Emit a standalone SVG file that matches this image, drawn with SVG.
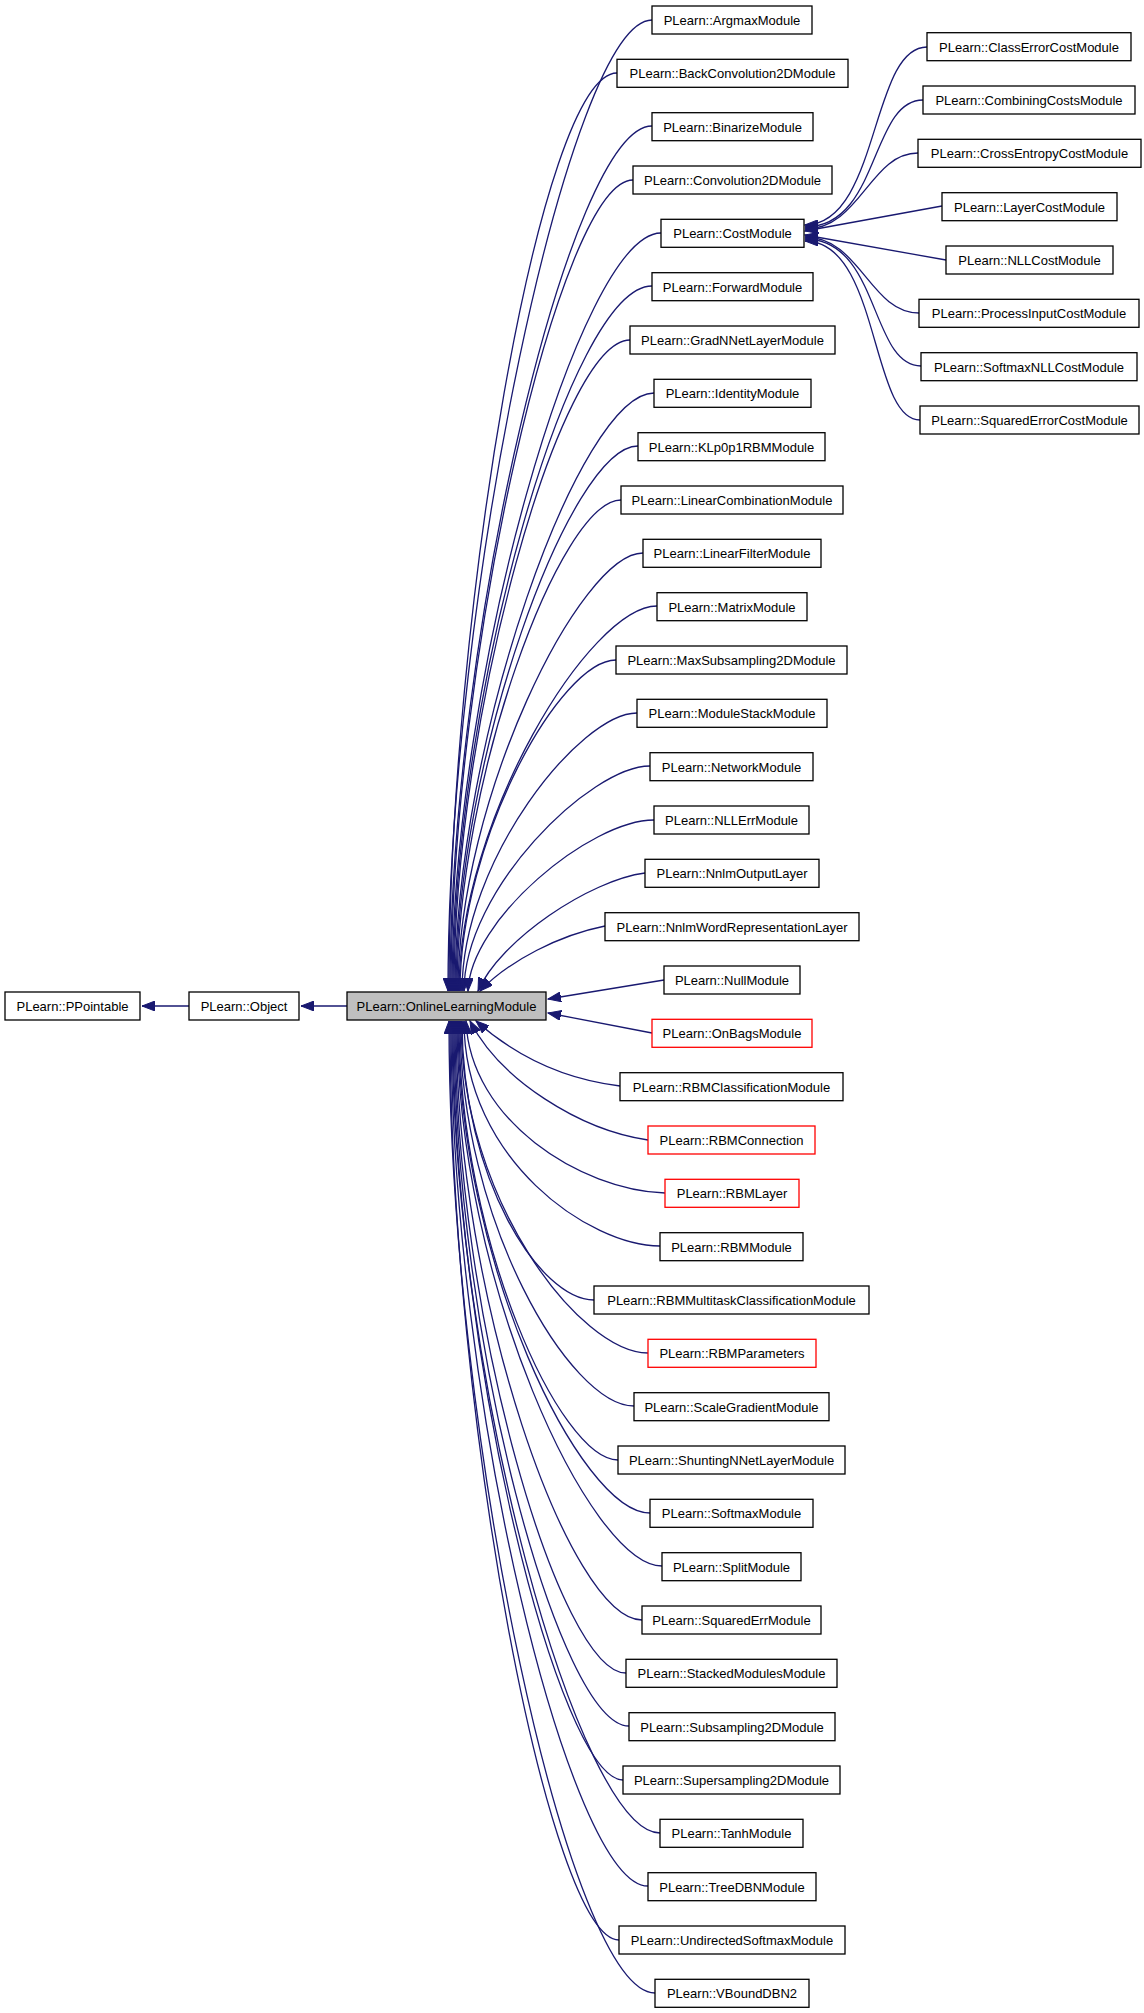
<svg xmlns="http://www.w3.org/2000/svg" width="1144" height="2013" viewBox="0 0 1144 2013">
<style>
.n rect{fill:#fff;stroke:#000;stroke-width:1.3}
.n.red rect{stroke:#ff0000}
.n.main rect{fill:#bfbfbf}
.n text{font-family:"Liberation Sans",Arial,sans-serif;font-size:13px;text-anchor:middle;fill:#000}
#edges path{fill:none;stroke:#191970;stroke-width:1.3;marker-end:url(#ah)}
</style>
<defs>
<marker id="ah" markerUnits="userSpaceOnUse" markerWidth="14" markerHeight="10" refX="13" refY="5" orient="auto">
<path d="M0,0 L13,5 L0,10 Z" fill="#191970" stroke="#191970"/>
</marker>
</defs>
<g id="edges">
<path d="M189,1006 L142,1006"/>
<path d="M347,1006 L301,1006"/>
<path d="M652,20 C570,20 448,600 448,991"/>
<path d="M617,73 C540,73 449,620 449,991"/>
<path d="M652,126 C570,126 450,640 450,991"/>
<path d="M633,180 C560,180 451,660 451,991"/>
<path d="M661,233 C580,233 452,680 452,991"/>
<path d="M652,286 C570,286 453,700 453,991"/>
<path d="M630,340 C560,340 454,720 454,991"/>
<path d="M654,393 C580,393 455,740 455,991"/>
<path d="M638,446 C570,446 456,760 456,991"/>
<path d="M621,500 C560,500 457,780 457,991"/>
<path d="M643,553 C580,553 458,800 458,991"/>
<path d="M657,606 C590,606 459,820 459,991"/>
<path d="M616,660 C560,660 460,840 460,991"/>
<path d="M637,713 C580,713 462,860 462,991"/>
<path d="M650,766 C590,766 464,890 464,991"/>
<path d="M654,820 C590,820 470,920 468,991"/>
<path d="M645,873 C590,880 500,940 478,991"/>
<path d="M605,926 C560,935 510,960 480,991"/>
<path d="M664,980 L548,999"/>
<path d="M652,1033 L548,1013"/>
<path d="M620,1086 C570,1080 520,1060 476,1021"/>
<path d="M648,1140 C580,1130 500,1080 470,1021"/>
<path d="M665,1193 C580,1190 470,1120 466,1021"/>
<path d="M660,1246 C590,1246 464,1160 464,1021"/>
<path d="M594,1300 C540,1300 462,1180 462,1021"/>
<path d="M648,1353 C580,1353 461,1200 461,1021"/>
<path d="M634,1406 C570,1406 460,1220 460,1021"/>
<path d="M618,1460 C560,1460 459,1240 459,1021"/>
<path d="M650,1513 C580,1513 458,1260 458,1021"/>
<path d="M662,1566 C590,1566 457,1280 457,1021"/>
<path d="M642,1620 C570,1620 456,1300 456,1021"/>
<path d="M626,1673 C560,1673 455,1320 455,1021"/>
<path d="M629,1726 C560,1726 454,1340 454,1021"/>
<path d="M623,1780 C560,1780 453,1360 453,1021"/>
<path d="M660,1833 C580,1833 452,1380 452,1021"/>
<path d="M648,1886 C570,1886 451,1400 451,1021"/>
<path d="M619,1940 C550,1940 450,1420 450,1021"/>
<path d="M655,1993 C570,1993 449,1440 449,1021"/>
<path d="M927,47 C870,47 880,224 805,225"/>
<path d="M923,100 C870,100 880,227 805,227"/>
<path d="M918,153 C870,153 860,229 805,229"/>
<path d="M942,206 L805,231"/>
<path d="M946,260 L805,235"/>
<path d="M919,313 C870,313 860,237 805,237"/>
<path d="M921,366 C870,366 880,239 805,239"/>
<path d="M920,420 C870,420 880,241 805,241"/>
</g>
<g id="n_ppointable" class="n"><rect x="5" y="992" width="135" height="28"/><text x="72.5" y="1011">PLearn::PPointable</text></g>
<g id="n_object" class="n"><rect x="189" y="992" width="110" height="28"/><text x="244" y="1011">PLearn::Object</text></g>
<g id="n_olm" class="n main"><rect x="347" y="992" width="199" height="28"/><text x="446.5" y="1011">PLearn::OnlineLearningModule</text></g>
<g id="n_argmax" class="n"><rect x="652" y="6" width="160" height="28"/><text x="732" y="25">PLearn::ArgmaxModule</text></g>
<g id="n_backconv" class="n"><rect x="617" y="59.3" width="231" height="28"/><text x="732.5" y="78.3">PLearn::BackConvolution2DModule</text></g>
<g id="n_binarize" class="n"><rect x="652" y="112.7" width="161" height="28"/><text x="732.5" y="131.7">PLearn::BinarizeModule</text></g>
<g id="n_conv" class="n"><rect x="633" y="166" width="199" height="28"/><text x="732.5" y="185">PLearn::Convolution2DModule</text></g>
<g id="n_cost" class="n"><rect x="661" y="219.3" width="143" height="28"/><text x="732.5" y="238.3">PLearn::CostModule</text></g>
<g id="n_forward" class="n"><rect x="652" y="272.7" width="161" height="28"/><text x="732.5" y="291.7">PLearn::ForwardModule</text></g>
<g id="n_gradnnet" class="n"><rect x="630" y="326" width="205" height="28"/><text x="732.5" y="345">PLearn::GradNNetLayerModule</text></g>
<g id="n_identity" class="n"><rect x="654" y="379.3" width="157" height="28"/><text x="732.5" y="398.3">PLearn::IdentityModule</text></g>
<g id="n_klp" class="n"><rect x="638" y="432.7" width="187" height="28"/><text x="731.5" y="451.7">PLearn::KLp0p1RBMModule</text></g>
<g id="n_lincomb" class="n"><rect x="621" y="486" width="222" height="28"/><text x="732" y="505">PLearn::LinearCombinationModule</text></g>
<g id="n_linfilter" class="n"><rect x="643" y="539.3" width="178" height="28"/><text x="732" y="558.3">PLearn::LinearFilterModule</text></g>
<g id="n_matrix" class="n"><rect x="657" y="592.7" width="150" height="28"/><text x="732" y="611.7">PLearn::MatrixModule</text></g>
<g id="n_maxsub" class="n"><rect x="616" y="646" width="231" height="28"/><text x="731.5" y="665">PLearn::MaxSubsampling2DModule</text></g>
<g id="n_modstack" class="n"><rect x="637" y="699.3" width="190" height="28"/><text x="732" y="718.3">PLearn::ModuleStackModule</text></g>
<g id="n_network" class="n"><rect x="650" y="752.7" width="163" height="28"/><text x="731.5" y="771.7">PLearn::NetworkModule</text></g>
<g id="n_nllerr" class="n"><rect x="654" y="806" width="155" height="28"/><text x="731.5" y="825">PLearn::NLLErrModule</text></g>
<g id="n_nnlmout" class="n"><rect x="645" y="859.3" width="174" height="28"/><text x="732" y="878.3">PLearn::NnlmOutputLayer</text></g>
<g id="n_nnlmword" class="n"><rect x="605" y="912.7" width="254" height="28"/><text x="732" y="931.7">PLearn::NnlmWordRepresentationLayer</text></g>
<g id="n_null" class="n"><rect x="664" y="966" width="136" height="28"/><text x="732" y="985">PLearn::NullModule</text></g>
<g id="n_onbags" class="n red"><rect x="652" y="1019.3" width="160" height="28"/><text x="732" y="1038.3">PLearn::OnBagsModule</text></g>
<g id="n_rbmclass" class="n"><rect x="620" y="1072.7" width="223" height="28"/><text x="731.5" y="1091.7">PLearn::RBMClassificationModule</text></g>
<g id="n_rbmconn" class="n red"><rect x="648" y="1126" width="167" height="28"/><text x="731.5" y="1145">PLearn::RBMConnection</text></g>
<g id="n_rbmlayer" class="n red"><rect x="665" y="1179.3" width="134" height="28"/><text x="732" y="1198.3">PLearn::RBMLayer</text></g>
<g id="n_rbmmodule" class="n"><rect x="660" y="1232.7" width="143" height="28"/><text x="731.5" y="1251.7">PLearn::RBMModule</text></g>
<g id="n_rbmmulti" class="n"><rect x="594" y="1286" width="275" height="28"/><text x="731.5" y="1305">PLearn::RBMMultitaskClassificationModule</text></g>
<g id="n_rbmparams" class="n red"><rect x="648" y="1339.3" width="168" height="28"/><text x="732" y="1358.3">PLearn::RBMParameters</text></g>
<g id="n_scalegrad" class="n"><rect x="634" y="1392.7" width="195" height="28"/><text x="731.5" y="1411.7">PLearn::ScaleGradientModule</text></g>
<g id="n_shunting" class="n"><rect x="618" y="1446" width="227" height="28"/><text x="731.5" y="1465">PLearn::ShuntingNNetLayerModule</text></g>
<g id="n_softmax" class="n"><rect x="650" y="1499.3" width="163" height="28"/><text x="731.5" y="1518.3">PLearn::SoftmaxModule</text></g>
<g id="n_split" class="n"><rect x="662" y="1552.7" width="139" height="28"/><text x="731.5" y="1571.7">PLearn::SplitModule</text></g>
<g id="n_squarederr" class="n"><rect x="642" y="1606" width="179" height="28"/><text x="731.5" y="1625">PLearn::SquaredErrModule</text></g>
<g id="n_stacked" class="n"><rect x="626" y="1659.3" width="211" height="28"/><text x="731.5" y="1678.3">PLearn::StackedModulesModule</text></g>
<g id="n_subsamp" class="n"><rect x="629" y="1712.7" width="206" height="28"/><text x="732" y="1731.7">PLearn::Subsampling2DModule</text></g>
<g id="n_supersamp" class="n"><rect x="623" y="1766" width="217" height="28"/><text x="731.5" y="1785">PLearn::Supersampling2DModule</text></g>
<g id="n_tanh" class="n"><rect x="660" y="1819.3" width="143" height="28"/><text x="731.5" y="1838.3">PLearn::TanhModule</text></g>
<g id="n_treedbn" class="n"><rect x="648" y="1872.7" width="168" height="28"/><text x="732" y="1891.7">PLearn::TreeDBNModule</text></g>
<g id="n_undirected" class="n"><rect x="619" y="1926" width="226" height="28"/><text x="732" y="1945">PLearn::UndirectedSoftmaxModule</text></g>
<g id="n_vbound" class="n"><rect x="655" y="1979.3" width="154" height="28"/><text x="732" y="1998.3">PLearn::VBoundDBN2</text></g>
<g id="n_classerr" class="n"><rect x="927" y="32.7" width="204" height="28"/><text x="1029" y="51.7">PLearn::ClassErrorCostModule</text></g>
<g id="n_combining" class="n"><rect x="923" y="86" width="212" height="28"/><text x="1029" y="105">PLearn::CombiningCostsModule</text></g>
<g id="n_crossent" class="n"><rect x="918" y="139.3" width="223" height="28"/><text x="1029.5" y="158.3">PLearn::CrossEntropyCostModule</text></g>
<g id="n_layercost" class="n"><rect x="942" y="192.7" width="175" height="28"/><text x="1029.5" y="211.7">PLearn::LayerCostModule</text></g>
<g id="n_nllcost" class="n"><rect x="946" y="246" width="167" height="28"/><text x="1029.5" y="265">PLearn::NLLCostModule</text></g>
<g id="n_procinput" class="n"><rect x="919" y="299.3" width="220" height="28"/><text x="1029" y="318.3">PLearn::ProcessInputCostModule</text></g>
<g id="n_softmaxnll" class="n"><rect x="921" y="352.7" width="216" height="28"/><text x="1029" y="371.7">PLearn::SoftmaxNLLCostModule</text></g>
<g id="n_sqerrcost" class="n"><rect x="920" y="406" width="219" height="28"/><text x="1029.5" y="425">PLearn::SquaredErrorCostModule</text></g>
</svg>
